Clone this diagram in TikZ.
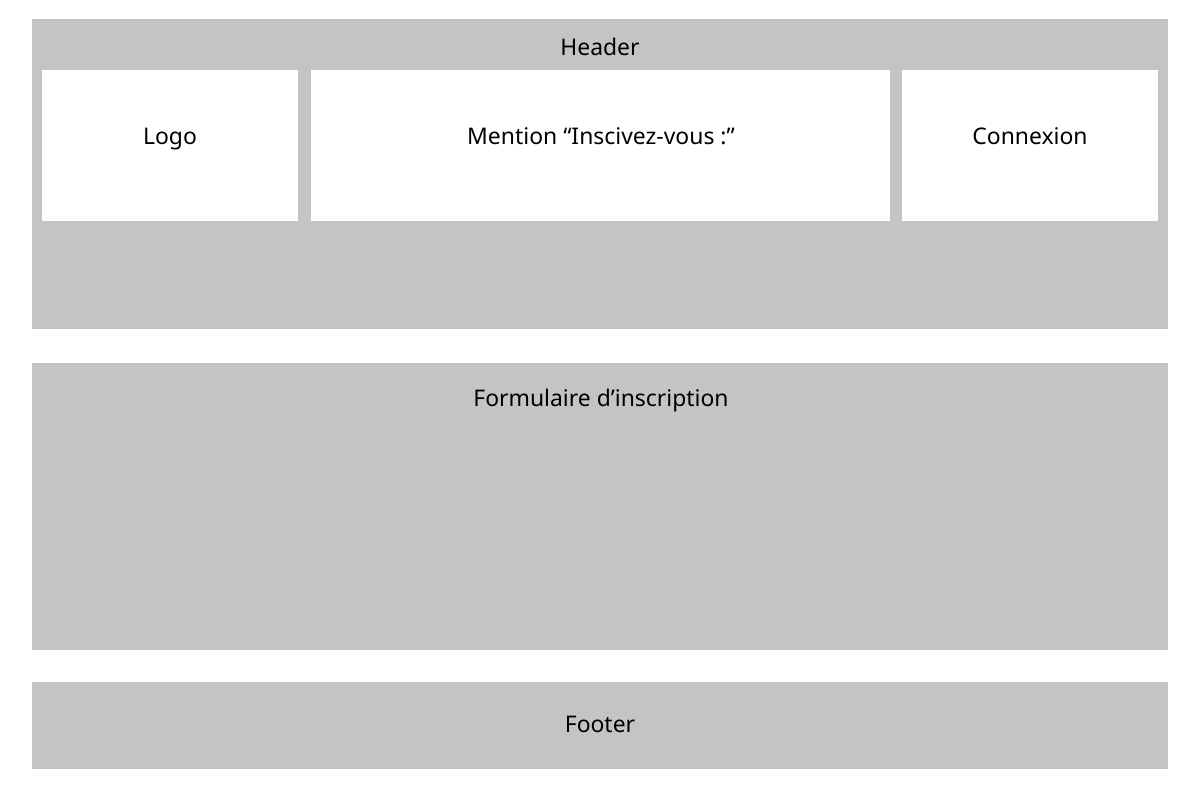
\documentclass[tikz,border=0pt]{standalone}
\usepackage{fontspec}
\setmainfont{Noto Sans}
\usepackage{tikz}
\usetikzlibrary{calc}
\definecolor{zonegray}{HTML}{C4C4C4}
\tikzset{
  zone/.style={fill=zonegray, draw=none},
  cell/.style={fill=white, draw=none},
  lbl/.style={font=\fontsize{16.3}{19}\selectfont, inner sep=0pt, anchor=center,
    text height=0.714em, text depth=0pt}
}
\begin{document}
\begin{tikzpicture}[x=0.025cm, y=-0.025cm]
        \useasboundingbox (0,0) rectangle (1200,800);
        \fill[white] (0,0) rectangle (1200,800);

        % header
        \path[zone] (32,19) rectangle (1168,329);
        \path[cell] (42,70) rectangle (298,221);
        \path[cell] (311,70) rectangle (890,221);
        \path[cell] (902,70) rectangle (1158,221);
        \node[lbl] (header) at (600,50) {Header};
        \node[lbl] (logo) at (170,139) {Logo};
        \node[lbl] (mention) at (601,139) {Mention “Inscivez-vous :”};
        \node[lbl] (connexion) at (1030,139) {Connexion};

        % formulaire
        \path[zone] (32,363) rectangle (1168,650);
        \node[lbl] (form) at (601,401) {Formulaire d’inscription};

        % footer
        \path[zone] (32,682) rectangle (1168,769);
        \node[lbl] (footer) at (600,727) {Footer};
    \end{tikzpicture}
\end{document}
